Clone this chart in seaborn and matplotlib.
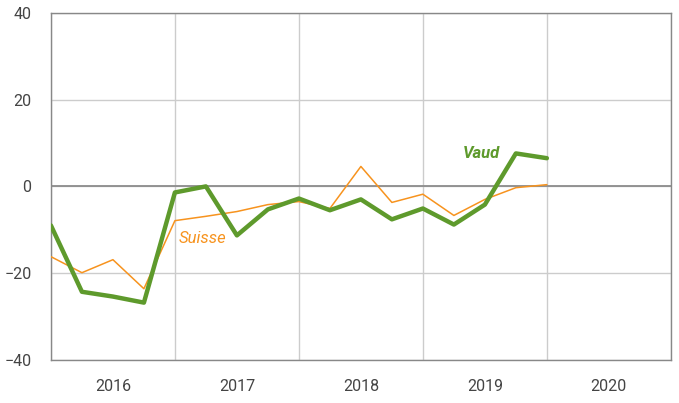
import pandas as pd
import matplotlib.pyplot as plt
import seaborn as sns

sns.set_style("white")
plt.rcParams['font.family'] = ['Roboto', 'DejaVu Sans']

# quarterly values, 2016 Q1 .. 2020 Q1
quarters = list(range(17))
vaud = [-9, -24.3, -25.4, -26.8, -1.4, 0, -11.3, -5.3, -2.8, -5.5, -3, -7.6, -5.1, -8.8, -4.2, 7.6, 6.5]
suisse = [-16.2, -19.9, -16.9, -23.6, -7.9, -6.9, -5.8, -4.2, -3.5, -5.1, 4.6, -3.7, -1.8, -6.7, -3, -0.3, 0.4]
years = ["2016", "2017", "2018", "2019", "2020"]

df = pd.DataFrame({"q": quarters, "Vaud": vaud, "Suisse": suisse})

fig = plt.figure(figsize=(6.79, 4.03), dpi=100)
ax = fig.add_axes([0.075, 0.107, 0.913, 0.861])

green = "#5e9a2c"
orange = "#f7931e"

ax.axhline(0, color="#8c8c8c", lw=1.3, zorder=1)
sns.lineplot(data=df, x="q", y="Suisse", ax=ax, color=orange, lw=1.1, zorder=3)
sns.lineplot(data=df, x="q", y="Vaud", ax=ax, color=green, lw=3.2, zorder=4)

ax.set_xlim(0, 20)
ax.set_ylim(-40, 40)
ax.set_yticks([-40, -20, 0, 20, 40])
ax.set_xticks([0, 4, 8, 12, 16, 20])
ax.set_xticklabels([])
ax.set_xticks([2, 6, 10, 14, 18], minor=True)
ax.set_xticklabels(years, minor=True)
ax.tick_params(axis="x", which="both", length=0, pad=14, labelsize=11.5, colors="#444444")
ax.tick_params(axis="y", length=0, pad=14, labelsize=11.5, colors="#444444")
ax.grid(True, which="major", color="#cccccc", lw=1)
ax.set_xlabel("")
ax.set_ylabel("")
for s in ax.spines.values():
    s.set_color("#888888")
    s.set_linewidth(1)

ax.text(13.9, 7.6, "Vaud", color=green, fontsize=12, fontweight="bold", style="italic", ha="center", va="center")
ax.text(4.9, -12, "Suisse", color=orange, fontsize=12, style="italic", ha="center", va="center")

fig.savefig("out.png", dpi=100)
